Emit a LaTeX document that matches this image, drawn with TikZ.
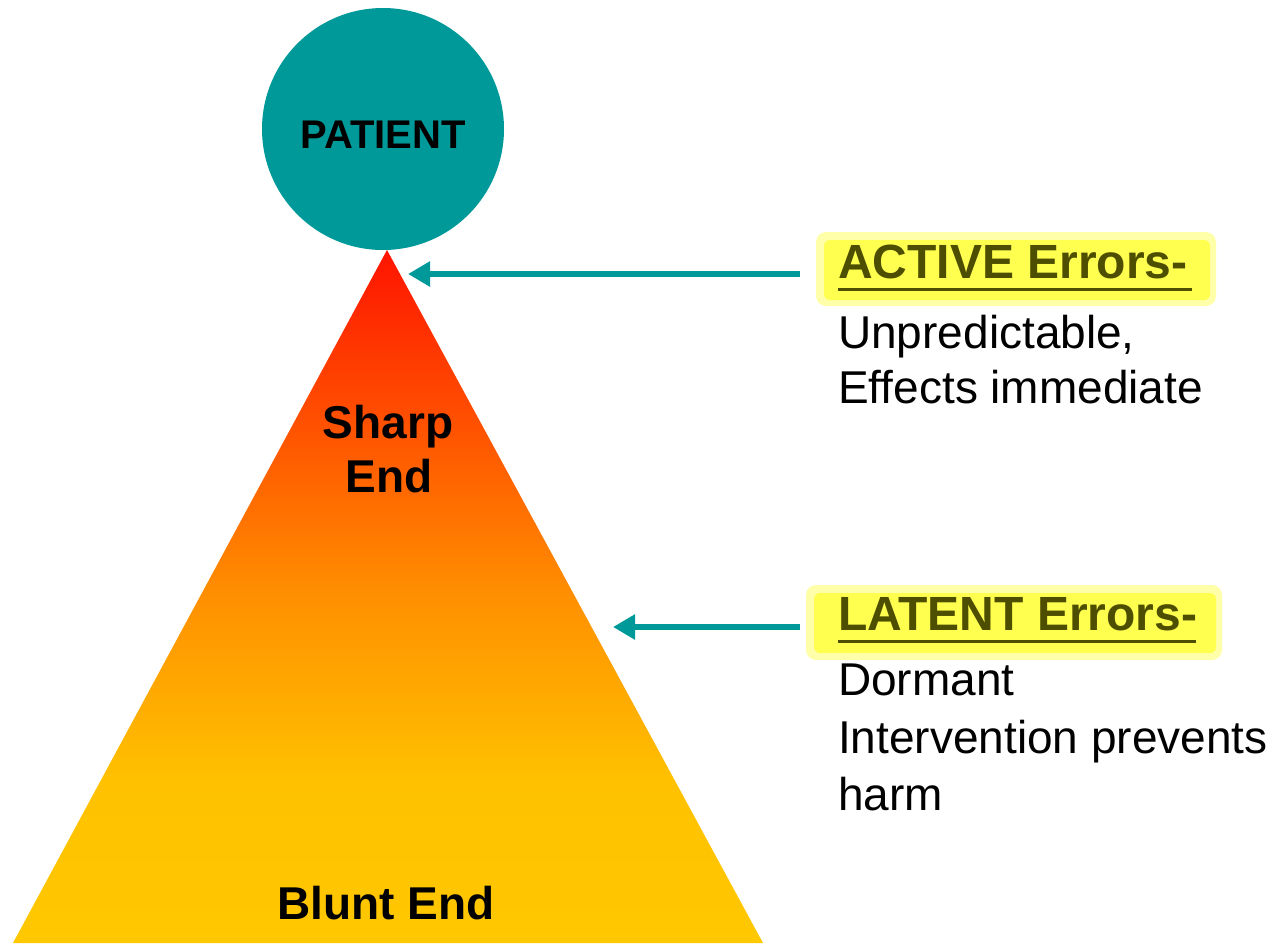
\documentclass[tikz,border=0pt]{standalone}
\usepackage{fontspec}
\setmainfont{Liberation Sans}
\usetikzlibrary{arrows.meta}
\definecolor{tealc}{RGB}{0,153,153}
\definecolor{apexred}{RGB}{255,20,0}
\definecolor{redorange}{RGB}{255,90,0}
\definecolor{midorange}{RGB}{255,145,0}
\definecolor{lowyellow}{RGB}{255,193,0}
\definecolor{baseyellow}{RGB}{255,200,0}
\definecolor{hlyellow}{RGB}{255,255,80}
\definecolor{hlglow}{RGB}{255,255,170}
\definecolor{olivetext}{RGB}{78,78,0}
\pgfdeclareverticalshading{pyramidshade}{100bp}{
  color(0bp)=(baseyellow); color(25bp)=(baseyellow); color(36.8bp)=(lowyellow);
  color(49.7bp)=(midorange); color(60.6bp)=(redorange); color(75bp)=(apexred);
  color(100bp)=(apexred)}
\tikzset{
  bigtext/.style={font=\fontsize{46}{46}\selectfont\bfseries, inner sep=0pt, anchor=base},
  bodytext/.style={font=\fontsize{46}{46}\selectfont, inner sep=0pt, anchor=base west},
  headtext/.style={font=\fontsize{48}{48}\selectfont\bfseries, inner sep=0pt, anchor=base west, text=olivetext},
  pointer/.style={draw=tealc, line width=6pt, -{Triangle[length=22pt,width=24pt]}},
  hlbox/.style={fill=hlyellow, rounded corners=6pt},
  hlouter/.style={fill=hlglow, rounded corners=10pt},
  underl/.style={draw=olivetext, line width=3pt}
}
\begin{document}
\begin{tikzpicture}[x=1pt,y=-1pt]
\useasboundingbox (0,0) rectangle (1280,943);
% pyramid
\shade[shading=pyramidshade]
  (387,250) -- (763,943) -- (13,943) -- cycle;
% patient
\node[circle, fill=tealc, minimum size=242pt, inner sep=0pt] (patient) at (383,129) {};
\node[font=\fontsize{40}{40}\selectfont\bfseries, inner sep=0pt, anchor=base] (patientlabel) at (383,148) {PATIENT};
% pyramid labels
\node[bigtext] (sharp) at (388,438) {Sharp};
\node[bigtext] (sharpend) at (389,492) {End};
\node[bigtext] (blunt) at (386,919) {Blunt End};
% highlights
\path[hlouter] (816,232) rectangle (1216,306);
\path[hlbox] (824,240) rectangle (1210,300);
\path[hlouter] (806,585) rectangle (1222,660);
\path[hlbox] (814,593) rectangle (1216,653);
% active
\node[headtext] (active) at (838,278) {ACTIVE Errors-};
\draw[underl] (838,289) -- (1192,289);
\node[bodytext] (act1) at (838,348) {Unpredictable,};
\node[bodytext] (act2) at (838,403) {Effects immediate};
% latent
\node[headtext] (latent) at (838,630) {LATENT Errors-};
\draw[underl] (838,641) -- (1196,641);
\node[bodytext] (lat1) at (838,695) {Dormant};
\node[bodytext] (lat2) at (838,753) {Intervention prevents};
\node[bodytext] (lat3) at (838,810) {harm};
% arrows
\coordinate (activetail) at (800,274);
\coordinate (activetip) at (408,274);
\coordinate (latenttail) at (800,627);
\coordinate (latenttip) at (613,627);
\draw[pointer] (activetail) -- (activetip);
\draw[pointer] (latenttail) -- (latenttip);
\end{tikzpicture}
\end{document}
